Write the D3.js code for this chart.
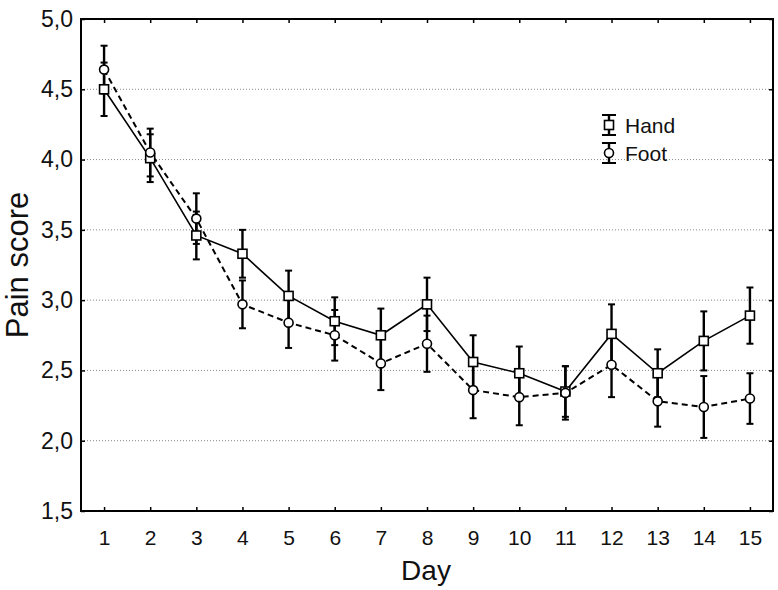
<!DOCTYPE html>
<html><head><meta charset="utf-8">
<script src="https://cdn.jsdelivr.net/npm/d3@7/dist/d3.min.js"></script>
<style>body{margin:0;background:#fff}svg{display:block}text{font-family:"Liberation Sans",Arial,sans-serif;fill:#111}</style>
</head><body>
<svg id="c" width="778" height="590"></svg>
<script>
const days = [1,2,3,4,5,6,7,8,9,10,11,12,13,14,15];
const handMean = [4.50,4.01,3.46,3.33,3.03,2.85,2.75,2.97,2.56,2.48,2.35,2.76,2.48,2.71,2.89];
const handErr  = [0.19,0.17,0.17,0.17,0.18,0.17,0.19,0.19,0.19,0.19,0.18,0.21,0.17,0.21,0.20];
const footMean = [4.64,4.05,3.58,2.97,2.84,2.75,2.55,2.69,2.36,2.31,2.34,2.54,2.28,2.24,2.30];
const footErr  = [0.17,0.17,0.18,0.17,0.18,0.18,0.19,0.20,0.20,0.20,0.19,0.23,0.18,0.22,0.18];
const yTicks = [1.5,2.0,2.5,3.0,3.5,4.0,4.5,5.0];
const gridVals = [2.0,2.5,3.0,3.5,4.0,4.5];
const seriesNames = ["Hand","Foot"];

const svg = d3.select("#c");
const L=81, R=773, T=19, B=511;
const x = d3.scaleLinear().domain([0.5,15.5]).range([L,R]);
const y = d3.scaleLinear().domain([1.5,5.0]).range([B,T]);
const fmt = v => d3.format(".1f")(v).replace(".", ",");

// grid
svg.append("g").selectAll("line").data(gridVals).join("line")
  .attr("x1",L).attr("x2",R).attr("y1",d=>y(d)).attr("y2",d=>y(d))
  .attr("stroke","#888").attr("stroke-width",1).attr("stroke-dasharray","1,2");

// axes with inward ticks
const ax = (g, gen) => { g.call(gen); g.select(".domain").remove(); g.selectAll("line").attr("stroke","#000").attr("stroke-width",1.5); };
svg.append("g").attr("transform",`translate(0,${B})`)
  .call(g=>ax(g, d3.axisBottom(x).tickValues(days).tickSizeInner(-4).tickSizeOuter(0).tickPadding(19).tickFormat(d3.format("d"))))
  .selectAll("text").attr("font-size",21).attr("fill","#111");
svg.append("g").attr("transform",`translate(0,${T})`)
  .call(g=>ax(g, d3.axisTop(x).tickValues(days).tickSizeInner(-4).tickSizeOuter(0).tickFormat("")));
svg.append("g").attr("transform",`translate(${L},0)`)
  .call(g=>ax(g, d3.axisLeft(y).tickValues(yTicks).tickSizeInner(-4).tickSizeOuter(0).tickPadding(8).tickFormat(fmt)))
  .selectAll("text").attr("font-size",23).attr("fill","#111");
svg.append("g").attr("transform",`translate(${R},0)`)
  .call(g=>ax(g, d3.axisRight(y).tickValues(yTicks).tickSizeInner(-4).tickSizeOuter(0).tickFormat("")));

// frame
svg.append("rect").attr("x",L).attr("y",T).attr("width",R-L).attr("height",B-T)
  .attr("fill","none").attr("stroke","#000").attr("stroke-width",2);

// titles
svg.append("text").attr("x",(L+R)/2 - 1).attr("y",580).attr("text-anchor","middle").attr("font-size",28).text("Day");
svg.append("text").attr("transform","translate(28,265) rotate(-90)").attr("text-anchor","middle").attr("font-size",31).text("Pain score");

const series = [
  {name:seriesNames[0], m:handMean, e:handErr, dash:null, shape:"square"},
  {name:seriesNames[1], m:footMean, e:footErr, dash:"6,4", shape:"circle"}
];
const line = d3.line().x((d,i)=>x(days[i])).y(d=>y(d));

function errbar(g, cx, y1, y2, capW){
  g.append("line").attr("x1",cx).attr("x2",cx).attr("y1",y1).attr("y2",y2).attr("stroke","#000").attr("stroke-width",2.4);
  [y1,y2].forEach(yy=>g.append("line").attr("x1",cx-capW/2).attr("x2",cx+capW/2).attr("y1",yy).attr("y2",yy).attr("stroke","#000").attr("stroke-width",2));
}
function marker(g, shape, cx, cy){
  if(shape==="square") g.append("rect").attr("x",cx-4.5).attr("y",cy-4.5).attr("width",9).attr("height",9).attr("fill","#fff").attr("stroke","#000").attr("stroke-width",1.6);
  else g.append("circle").attr("cx",cx).attr("cy",cy).attr("r",4.5).attr("fill","#fff").attr("stroke","#000").attr("stroke-width",1.6);
}

// lines
series.forEach(s=>{
  svg.append("path").datum(s.m).attr("d",line).attr("fill","none").attr("stroke","#000")
    .attr("stroke-width",s.dash?2:1.6).attr("stroke-dasharray",s.dash);
});
// error bars
series.forEach(s=>{
  const g = svg.append("g");
  s.m.forEach((v,i)=>errbar(g, x(days[i]), y(v+s.e[i]), y(v-s.e[i]), 7));
});
// markers
series.forEach(s=>{
  const g = svg.append("g");
  s.m.forEach((v,i)=>marker(g, s.shape, x(days[i]), y(v)));
});

// legend
const lg = svg.append("g");
series.forEach((s,i)=>{
  const cy = 125 + i*28;
  errbar(lg, 609, cy-10, cy+10, 14);
  marker(lg, s.shape, 609, cy);
  lg.append("text").attr("x",625).attr("y",cy+8).attr("font-size",21).text(s.name);
});
</script>
</body></html>
